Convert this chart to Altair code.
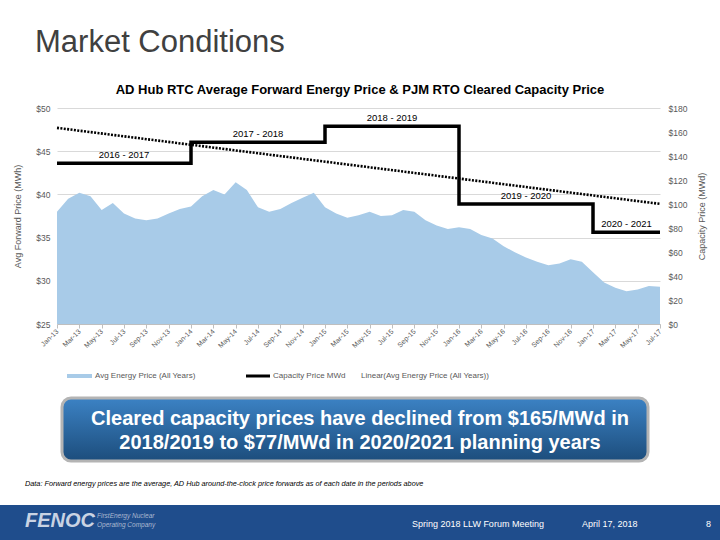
import altair as alt
import pandas as pd

# ---------------- data ----------------
energy_months = [
    "2013-01", "2013-02", "2013-03", "2013-04", "2013-05", "2013-06", "2013-07", "2013-08", "2013-09", "2013-10", "2013-11", "2013-12",
    "2014-01", "2014-02", "2014-03", "2014-04", "2014-05", "2014-06", "2014-07", "2014-08", "2014-09", "2014-10", "2014-11", "2014-12",
    "2015-01", "2015-02", "2015-03", "2015-04", "2015-05", "2015-06", "2015-07", "2015-08", "2015-09", "2015-10", "2015-11", "2015-12",
    "2016-01", "2016-02", "2016-03", "2016-04", "2016-05", "2016-06", "2016-07", "2016-08", "2016-09", "2016-10", "2016-11", "2016-12",
    "2017-01", "2017-02", "2017-03", "2017-04", "2017-05", "2017-06", "2017-07",
]
energy_price = [
    38.0, 39.5, 40.2, 39.8, 38.2, 39.0, 37.8, 37.2, 37.0, 37.2, 37.8, 38.3,
    38.6, 39.8, 40.5, 40.0, 41.4, 40.5, 38.5, 38.0, 38.3, 39.0, 39.6, 40.2,
    38.5, 37.8, 37.3, 37.6, 38.0, 37.5, 37.6, 38.2, 38.0, 37.0, 36.4, 36.0,
    36.2, 36.0, 35.3, 34.9, 34.0, 33.3, 32.7, 32.2, 31.8, 32.0, 32.5, 32.2,
    31.0, 29.8, 29.2, 28.8, 29.0, 29.4, 29.3,
]

cap_start = ["2013-01", "2014-01", "2015-01", "2016-01", "2017-01", "2017-07"]
cap_price = [134.0, 151.5, 164.77, 100.0, 76.53, 76.53]
cap_years = ["2016 - 2017", "2017 - 2018", "2018 - 2019", "2019 - 2020", "2020 - 2021"]

trend_months = ["2013-01", "2017-07"]
trend_price = [47.7, 38.9]

x_tick_labels = [
    "Jan-13", "Mar-13", "May-13", "Jul-13", "Sep-13", "Nov-13",
    "Jan-14", "Mar-14", "May-14", "Jul-14", "Sep-14", "Nov-14",
    "Jan-15", "Mar-15", "May-15", "Jul-15", "Sep-15", "Nov-15",
    "Jan-16", "Mar-16", "May-16", "Jul-16", "Sep-16", "Nov-16",
    "Jan-17", "Mar-17", "May-17", "Jul-17",
]
left_ticks = [25, 30, 35, 40, 45, 50]
right_ticks = [0, 20, 40, 60, 80, 100, 120, 140, 160, 180]


def month_index(s):
    y, m = s.split("-")[:2]
    return (int(y) - 2013) * 12 + int(m) - 1


energy_df = pd.DataFrame({"m": [month_index(s) for s in energy_months], "price": energy_price})
cap_df = pd.DataFrame({"m": [month_index(s) for s in cap_start], "cap": cap_price})
cap_lab_df = pd.DataFrame({
    "m": [(month_index(cap_start[i]) + month_index(cap_start[i + 1])) / 2 for i in range(len(cap_years))],
    "cap": cap_price[:len(cap_years)],
    "label": cap_years,
})
trend_df = pd.DataFrame({"m": [month_index(s) for s in trend_months], "price": trend_price})
dummy = pd.DataFrame({"d": [0]})

# ---------------- layout ----------------
OX, OY = 57, 108          # plot origin in page pixels
W, H = 603, 216
FONT = "Liberation Sans"
GREY = "#595959"


def px(v):
    return alt.value(v - OX)


def py(v):
    return alt.value(v - OY)


label_js = "[" + ",".join("'" + s + "'" for s in x_tick_labels) + "]"
xscale = alt.Scale(domain=[0, 54], nice=False, zero=False)
xaxis = alt.Axis(
    values=list(range(0, 55, 2)), labelExpr=label_js + "[round(datum.value/2)]",
    labelAngle=-45, labelAlign="right", labelBaseline="middle", labelFontSize=7, labelColor=GREY,
    labelFont=FONT, labelPadding=2, tickColor="#bfbfbf", tickSize=4, domainColor="#bfbfbf",
    grid=False, title=None, labelOverlap=False, labelBound=False, labelFlush=False,
)
x_enc = alt.X("m:Q", scale=xscale, axis=xaxis, title=None)

left_scale = alt.Scale(domain=[25, 50], nice=False, zero=False)
right_scale = alt.Scale(domain=[0, 180], nice=False, zero=False)

area = alt.Chart(energy_df).mark_area(color="#a8cbe8", opacity=1).encode(
    x=x_enc,
    y=alt.Y("price:Q", scale=left_scale, axis=alt.Axis(
        values=left_ticks, labelExpr="'$' + datum.value", labelFontSize=8.5, labelColor=GREY,
        labelFont=FONT, labelPadding=7, domain=False, ticks=False, grid=True, gridColor="#d9d9d9",
        title="Avg Forward Price (MWh)", titleFont=FONT, titleFontSize=9, titleFontWeight="normal",
        titleColor=GREY, titlePadding=13)),
    y2=alt.datum(25),
)

trend = alt.Chart(trend_df).mark_line(color="black", strokeWidth=2.6, strokeDash=[2, 1.4]).encode(
    x=x_enc, y=alt.Y("price:Q", scale=left_scale, axis=None)
)

cap_line = alt.Chart(cap_df).mark_line(color="black", strokeWidth=3.5, interpolate="step-after").encode(
    x=x_enc,
    y=alt.Y("cap:Q", scale=right_scale, axis=alt.Axis(
        orient="right", values=right_ticks, labelExpr="'$' + datum.value", labelFontSize=8.5,
        labelColor=GREY, labelFont=FONT, labelPadding=8, domain=False, ticks=False, grid=False,
        title="Capacity Price (MWd)", titleFont=FONT, titleFontSize=9, titleFontWeight="normal",
        titleColor=GREY, titleAngle=270, titlePadding=20)),
)

cap_text = alt.Chart(cap_lab_df).mark_text(
    font=FONT, fontSize=9.5, color="black", baseline="bottom", dy=-3
).encode(x=x_enc, y=alt.Y("cap:Q", scale=right_scale, axis=None), text="label:N")


def text(t, x, y, size, align="left", color="black", weight="normal", style="normal", font=FONT, baseline="middle"):
    return alt.Chart(dummy).mark_text(
        align=align, baseline=baseline, fontSize=size, color=color, fontWeight=weight,
        fontStyle=style, font=font
    ).encode(x=px(x), y=py(y), text=alt.value(t))


def rect(x1, y1, x2, y2, **kw):
    return alt.Chart(dummy).mark_rect(**kw).encode(x=px(x1), x2=px(x2), y=py(y1), y2=py(y2))


def hline(x1, x2, y, color, width, dash=None):
    kw = dict(color=color, strokeWidth=width)
    if dash:
        kw["strokeDash"] = dash
    return alt.Chart(dummy).mark_rule(**kw).encode(x=px(x1), x2=px(x2), y=py(y))


grad = alt.Gradient(
    gradient="linear", x1=0, x2=0, y1=0, y2=1,
    stops=[alt.GradientStop(color="#3c82c4", offset=0), alt.GradientStop(color="#1c4d7c", offset=1)],
)

decor = [
    text("Market Conditions", 35, 43, 31, color="#404040"),
    text("AD Hub RTC Average Forward Energy Price & PJM RTO Cleared Capacity Price", 360, 90, 13,
         align="center", weight="bold"),
    # legend
    hline(67, 92, 376, "#a8cbe8", 4),
    text("Avg Energy Price (All Years)", 95, 376, 8, color=GREY),
    hline(246, 270, 376, "black", 3),
    text("Capacity Price MWd", 273, 376, 8, color=GREY),
    text("Linear(Avg Energy Price (All Years))", 361, 376, 8, color=GREY),
    # callout
    rect(62, 398, 648, 461, fill=grad, cornerRadius=9, stroke="#b4b4b4", strokeWidth=3),
    text("Cleared capacity prices have declined from $165/MWd in", 360, 419, 20, align="center",
         color="white", weight="bold", font="Liberation Sans Narrow, Liberation Sans"),
    text("2018/2019 to $77/MWd in 2020/2021 planning years", 360, 443, 20, align="center",
         color="white", weight="bold", font="Liberation Sans Narrow, Liberation Sans"),
    # footnote
    text("Data: Forward energy prices are the average, AD Hub around-the-clock price forwards as of each date in the periods above",
         25, 484, 7.3, style="italic"),
    # footer
    rect(0, 505, 720, 540, fill="#1f4d8c"),
    text("FENOC", 25, 521, 20, color="#c9d3e3", weight="bold", style="italic"),
    text("FirstEnergy Nuclear", 97, 516, 6.5, color="#aab8d0", style="italic"),
    text("Operating Company", 97, 525, 6.5, color="#aab8d0", style="italic"),
    text("Spring 2018 LLW Forum Meeting", 412, 524, 9, color="white"),
    text("April 17, 2018", 582, 524, 9, color="white"),
    text("8", 706, 524, 9, color="white"),
]

chart = alt.layer(area, trend, cap_line, cap_text, *decor).resolve_scale(y="independent").properties(
    width=W, height=H,
    padding={"left": OX, "top": OY, "right": 720 - OX - W, "bottom": 540 - OY - H},
    autosize=alt.AutoSizeParams(type="none"),
    background="white",
).configure_view(stroke=None)

chart.save("out.html", embed_options={"renderer": "svg", "actions": False})
